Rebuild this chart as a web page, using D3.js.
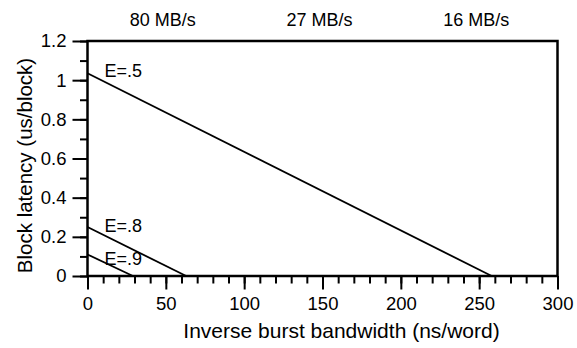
<!DOCTYPE html>
<html>
<head>
<meta charset="utf-8">
<script src="https://cdn.jsdelivr.net/npm/d3@7"></script>
<style>
  body { margin: 0; background: #fff; }
  text { font-family: "Liberation Sans", Arial, sans-serif; fill: #000; }
</style>
</head>
<body>
<svg width="577" height="348"></svg>
<script>
// each line runs from (0, start) down to (end, 0)
const seriesNames = ["E=.5", "E=.8", "E=.9"];
const seriesStart = [1.035, 0.25, 0.11];  // latency at x = 0
const seriesEnd = [258, 63, 29];          // x where latency hits 0
const xTicks = [0, 50, 100, 150, 200, 250, 300];
const yTicks = [0, 0.2, 0.4, 0.6, 0.8, 1, 1.2];
const topPos = [50, 150, 250];
const topLabels = ["80 MB/s", "27 MB/s", "16 MB/s"];

const margin = {left: 87.5, right: 19.5, top: 41, bottom: 72};
const width = 577 - margin.left - margin.right;
const height = 348 - margin.top - margin.bottom;
const font = "Liberation Sans, Arial, sans-serif";

const svg = d3.select("svg");
const chart = svg.append("g")
    .attr("transform", `translate(${margin.left}, ${margin.top})`);

const x = d3.scaleLinear().domain([0, 300]).range([0, width]);
const y = d3.scaleLinear().domain([0, 1.2]).range([height, 0]);

// minor ticks
chart.append("g")
    .attr("transform", `translate(0, ${height})`)
    .call(d3.axisBottom(x).tickValues(d3.range(0, 301, 10)).tickSize(7.5).tickFormat(""))
    .call(g => g.selectAll("line").attr("stroke-width", 2))
    .call(g => g.select(".domain").remove());
chart.append("g")
    .call(d3.axisLeft(y).tickValues(d3.range(0, 13, 1).map(d => d / 10)).tickSize(7.5).tickFormat(""))
    .call(g => g.selectAll("line").attr("stroke-width", 2))
    .call(g => g.select(".domain").remove());

// major ticks
chart.append("g")
    .attr("transform", `translate(0, ${height})`)
    .call(d3.axisBottom(x).tickValues(xTicks).tickSize(13.5).tickPadding(7.5))
    .call(g => g.selectAll("line").attr("stroke-width", 2))
    .call(g => g.select(".domain").remove())
    .call(g => g.selectAll("text").attr("font-size", "18.5px").attr("font-family", font));
chart.append("g")
    .call(d3.axisLeft(y).tickValues(yTicks).tickSize(15).tickPadding(6).tickFormat(d3.format("~g")))
    .call(g => g.selectAll("line").attr("stroke-width", 2))
    .call(g => g.select(".domain").remove())
    .call(g => g.selectAll("text").attr("font-size", "18.5px").attr("font-family", font));

// frame
chart.append("rect")
    .attr("width", width)
    .attr("height", height)
    .attr("fill", "none")
    .attr("stroke", "#000")
    .attr("stroke-width", 2.5);

// lines and their labels
const labelDy = [3.5, 5, 11];
seriesNames.forEach((name, i) => {
  chart.append("line")
      .attr("x1", x(0)).attr("y1", y(seriesStart[i]))
      .attr("x2", x(seriesEnd[i])).attr("y2", y(0))
      .attr("stroke", "#000")
      .attr("stroke-width", 1.8);
  chart.append("text")
      .attr("x", x(0) + 17)
      .attr("y", y(seriesStart[i]) + labelDy[i])
      .attr("font-size", "18px")
      .text(name);
});

// top bandwidth labels
chart.selectAll(".top")
    .data(topPos)
    .enter().append("text")
    .attr("class", "top")
    .attr("x", d => x(d) - 3)
    .attr("y", 26 - margin.top)
    .attr("text-anchor", "middle")
    .attr("font-size", "18px")
    .text((d, i) => topLabels[i]);

// axis titles
svg.append("text")
    .attr("x", 341.5)
    .attr("y", 338)
    .attr("text-anchor", "middle")
    .attr("font-size", "21px")
    .text("Inverse burst bandwidth (ns/word)");

svg.append("text")
    .attr("transform", "translate(32, 165.5) rotate(-90)")
    .attr("text-anchor", "middle")
    .attr("font-size", "20.5px")
    .text("Block latency (us/block)");
</script>
</body>
</html>
